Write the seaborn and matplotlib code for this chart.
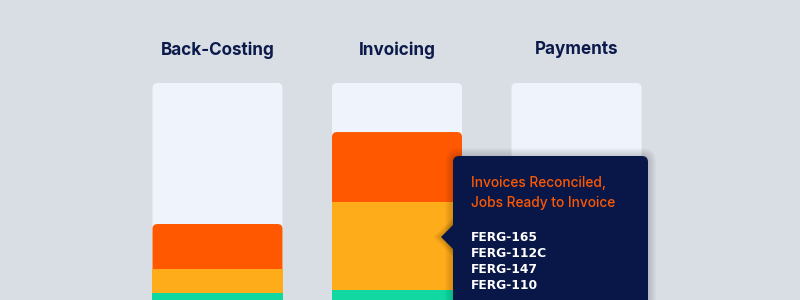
import matplotlib
matplotlib.use("Agg")
import matplotlib.pyplot as plt
import seaborn as sns
import pandas as pd
from matplotlib.patches import FancyBboxPatch, Polygon

# pipeline stages and how full each one is (percent of the column)
stages = ["Back-Costing", "Invoicing", "Payments"]
capacity = [100, 100, 100]
teal_vals = [11.4, 12.7, 0]
amber_vals = [10.1, 37.1, 0]
orange_vals = [19.0, 29.5, 0]

tooltip_title = ["Invoices Reconciled,", "Jobs Ready to Invoice"]
tooltip_jobs = ["FERG-165", "FERG-112C", "FERG-147", "FERG-110"]

BG = "#d9dde4"
COL_BG = "#eff3fb"
ORANGE = "#ff5800"
AMBER = "#ffac1a"
TEAL = "#10d8a0"
NAVY = "#0b1a4a"
TIP_BG = "#081748"

# layout: pixels per data unit
PX_X = 179.5
PX_Y = 2.37
X0 = 217.5

df = pd.DataFrame({"stage": stages, "cap": capacity,
                   "teal": teal_vals, "amber": amber_vals, "orange": orange_vals})
df["amber_top"] = df["teal"] + df["amber"]
df["orange_top"] = df["amber_top"] + df["orange"]

sns.set_theme(style="white")
plt.rcParams["font.family"] = ["Inter", "DejaVu Sans"]

fig = plt.figure(figsize=(8, 3), dpi=100, facecolor=BG)
ax = fig.add_axes([0, 0, 1, 1])
ax.set_facecolor(BG)


def draw_layer(col, color, rounded):
    n0 = len(ax.patches)
    sns.barplot(data=df, x="stage", y=col, color=color, saturation=1,
                width=130 / PX_X, errorbar=None, ax=ax)
    new = list(ax.patches[n0:])
    for p in new:
        x, y, w, h = p.get_x(), p.get_y(), p.get_width(), p.get_height()
        p.remove()
        if h <= 0:
            continue
        if rounded:
            r = 5 / PX_X
            fb = FancyBboxPatch((x, y), w, h,
                                boxstyle=f"round,pad=0,rounding_size={r}",
                                mutation_aspect=PX_X / PX_Y,
                                fc=color, ec="none", lw=0)
        else:
            fb = plt.Rectangle((x, y), w, h, fc=color, ec="none", lw=0)
        ax.add_patch(fb)


draw_layer("cap", COL_BG, True)
draw_layer("orange_top", ORANGE, True)
draw_layer("amber_top", AMBER, False)
draw_layer("teal", TEAL, False)

for i, s in enumerate(stages):
    ax.text(i, 270 / PX_Y, s, ha="center", va="center", fontsize=12.3,
            fontweight="bold", color=NAVY)

ax.set_xlim(-X0 / PX_X, (800 - X0) / PX_X)
ax.set_ylim(20 / PX_Y, 320 / PX_Y)
ax.axis("off")


# tooltip, placed in figure pixels
def px(x, y):
    return (x / 800, 1 - y / 300)


for k in range(1, 9):
    sh = FancyBboxPatch(px(453 - k, 340), (195 + 2 * k) / 800, (184 + k) / 300,
                        boxstyle=f"round,pad=0,rounding_size={(6 + k) / 800}",
                        mutation_aspect=800 / 300, transform=fig.transFigure,
                        fc="black", ec="none", alpha=0.018, zorder=5)
    fig.add_artist(sh)
    tri = Polygon([px(441 - k, 237), px(454, 224 - k), px(454, 250 + k)],
                  closed=True, transform=fig.transFigure, fc="black",
                  ec="none", alpha=0.025, zorder=5)
    fig.add_artist(tri)

box = FancyBboxPatch(px(453, 340), 195 / 800, 184 / 300,
                     boxstyle=f"round,pad=0,rounding_size={6 / 800}",
                     mutation_aspect=800 / 300, transform=fig.transFigure,
                     fc=TIP_BG, ec="none", zorder=6)
fig.add_artist(box)
arrow = Polygon([px(441, 237), px(454, 224), px(454, 250)], closed=True,
                transform=fig.transFigure, fc=TIP_BG, ec="none", zorder=6)
fig.add_artist(arrow)

for j, line in enumerate(tooltip_title):
    fig.text(*px(471, 186.7 + 20 * j), line, ha="left", va="baseline",
             fontsize=9.9, fontweight="medium", color=ORANGE, zorder=7)
for j, job in enumerate(tooltip_jobs):
    fig.text(*px(471, 240.7 + 16 * j), job, ha="left", va="baseline",
             fontsize=8.8, fontweight="bold", color="white", zorder=7,
             family="DejaVu Sans")

fig.savefig("out.png", dpi=100, facecolor=BG)
